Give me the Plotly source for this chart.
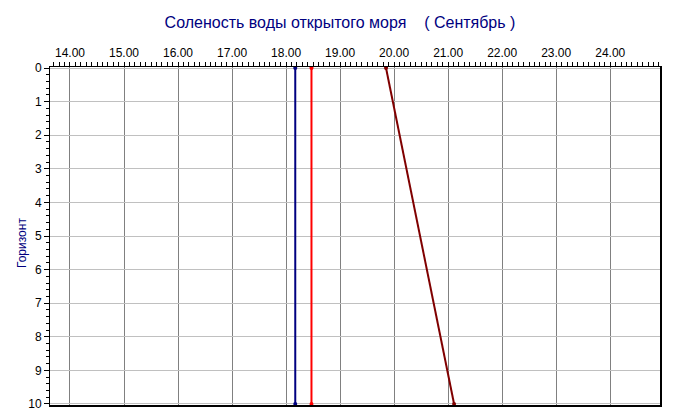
import plotly.graph_objects as go

depth = [0, 10]
series_blue = [18.17, 18.17]
series_red = [18.47, 18.47]
series_darkred = [19.85, 21.11]

x_ticks = [14, 15, 16, 17, 18, 19, 20, 21, 22, 23, 24]
x_labels = [f"{v:.2f}" for v in x_ticks]
y_ticks = list(range(0, 11))

fig = go.Figure()
for vals, col in [(series_blue, "#000080"), (series_red, "#ff0000"), (series_darkred, "#800000")]:
    fig.add_trace(go.Scatter(
        x=vals, y=depth, mode="lines+markers",
        line=dict(color=col, width=2),
        marker=dict(color=col, size=4),
        showlegend=False, hoverinfo="skip"))

# page body has an 8px margin: size the figure so the plot lands where the reference has it
OFF = 8
W, H = 675 - OFF, 419 - OFF
L, R, T, B = 50 - OFF, 14, 67 - OFF, 13
PW, PH = W - L - R, H - T - B
font = "Liberation Sans, Arial, sans-serif"
fig.update_layout(
    width=W, height=H,
    margin=dict(l=L, r=R, t=T, b=B, autoexpand=False),
    paper_bgcolor="white", plot_bgcolor="white",
    title=dict(text="Соленость воды открытого моря    ( Сентябрь )",
               x=(340 - OFF) / W, xanchor="center", xref="container", yref="container",
               y=1 - (22 - OFF) / H, yanchor="middle", automargin=False,
               font=dict(family=font, size=16, color="#000080")),
    font=dict(family=font, size=12, color="black"),
    xaxis=dict(side="top", range=[13.63, 24.94], tickvals=x_ticks, ticktext=x_labels,
               showgrid=True, gridcolor="#808080", gridwidth=1,
               ticks="outside", ticklen=4, tickcolor="black",
               minor=dict(dtick=0.1, ticks="outside", ticklen=4, tickcolor="black", showgrid=False),
               showline=True, linecolor="black", linewidth=1, mirror=True,
               zeroline=False, tickfont=dict(size=12), automargin=False),
    yaxis=dict(range=[10.06, -0.03], tickvals=y_ticks,
               showgrid=True, gridcolor="#c0c0c0", gridwidth=1,
               ticks="outside", ticklen=5, tickcolor="black",
               minor=dict(dtick=0.2, ticks="outside", ticklen=3, tickcolor="black", showgrid=False),
               showline=True, linecolor="black", linewidth=1, mirror=True,
               zeroline=False, tickfont=dict(size=12), automargin=False),
)
fig.add_annotation(text="Горизонт", textangle=-90, showarrow=False,
                   xref="paper", yref="paper",
                   x=(22 - 50) / PW, y=1 - (243 - 67) / PH,
                   xanchor="center", yanchor="middle",
                   font=dict(family=font, size=12, color="#000080"))
fig.add_shape(type="line", xref="paper", yref="paper", x0=1, x1=1, y0=0, y1=1,
              line=dict(color="black", width=2))
fig.add_shape(type="line", xref="paper", yref="paper", x0=0, x1=1, y0=0, y1=0,
              line=dict(color="black", width=2))

fig.write_html("out.html")
